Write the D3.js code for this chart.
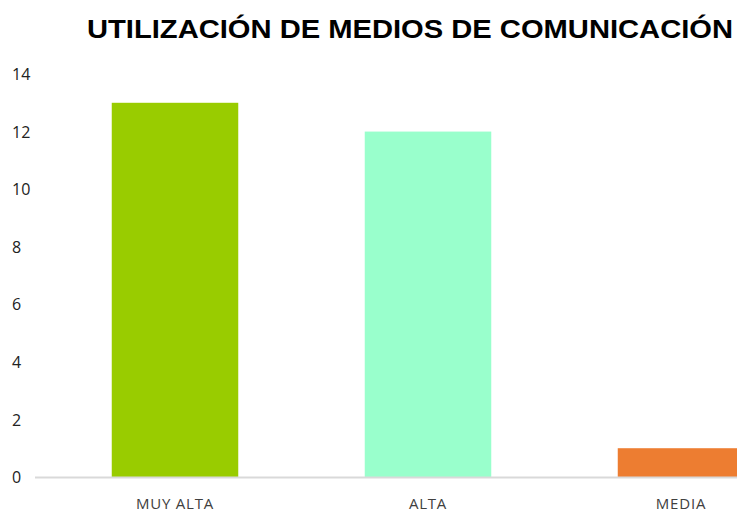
<!doctype html>
<html lang="es">
<head>
  <meta charset="UTF-8">
  <title>Utilización de medios de comunicación</title>
  <script src="https://d3js.org/d3.v7.min.js"></script>
  <style>
    body { margin: 0; background: #fff; }
  </style>
</head>
<body>
  <div id="chart"></div>
  <script>
    // data
    var categories = ["MUY ALTA", "ALTA", "MEDIA"];
    var values = [13, 12, 1];
    var colors = ["#99cc00", "#99ffcc", "#ed7d31"];
    var yTicks = [0, 2, 4, 6, 8, 10, 12, 14];

    var width = 737, height = 512;

    var svg = d3.select("#chart").append("svg")
      .attr("width", width)
      .attr("height", height);

    // band scale runs past the right edge, like the cropped original
    var x = d3.scaleBand()
      .domain(categories)
      .range([48.5, 807.5])
      .paddingInner(0.5)
      .paddingOuter(0.25);

    var y = d3.scaleLinear()
      .domain([0, 14])
      .range([477, 74]);

    // title (stretched a bit wider, like the original)
    svg.append("text")
      .attr("x", 87)
      .attr("y", 38)
      .attr("textLength", 646)
      .attr("lengthAdjust", "spacingAndGlyphs")
      .style("font-family", "'Liberation Sans', Arial, sans-serif")
      .style("font-weight", "bold")
      .style("font-size", "25px")
      .attr("fill", "#000")
      .text("UTILIZACIÓN DE MEDIOS DE COMUNICACIÓN");

    // y axis labels only, no line
    var yAxis = d3.axisLeft(y).tickValues(yTicks).tickSize(0).tickPadding(0);
    var gy = svg.append("g")
      .attr("transform", "translate(12,0)")
      .call(yAxis);
    gy.select(".domain").remove();
    gy.selectAll("text")
      .attr("text-anchor", "start")
      .attr("dy", "0.35em")
      .style("font-family", "'Open Sans', 'Noto Sans', sans-serif")
      .style("font-size", "16px")
      .attr("fill", "#222");

    // bars
    svg.selectAll("rect.bar")
      .data(values)
      .enter()
      .append("rect")
        .attr("class", "bar")
        .attr("x", function(d, i) { return x(categories[i]); })
        .attr("y", function(d) { return y(d); })
        .attr("width", x.bandwidth())
        .attr("height", function(d) { return y(0) - y(d); })
        .attr("fill", function(d, i) { return colors[i]; });

    // x axis
    var xAxis = d3.axisBottom(x).tickSize(0).tickPadding(21);
    var gx = svg.append("g")
      .attr("transform", "translate(0," + y(0) + ")")
      .call(xAxis);
    gx.select(".domain").remove();
    gx.append("line")
      .attr("x1", 35).attr("x2", width)
      .attr("y1", 0.5).attr("y2", 0.5)
      .attr("stroke", "#d9d9d9")
      .attr("stroke-width", 2);
    gx.selectAll("text")
      .style("font-family", "'Open Sans', 'Noto Sans', sans-serif")
      .style("font-size", "15px")
      .style("letter-spacing", "0.8px")
      .attr("fill", "#404040");
  </script>
</body>
</html>
